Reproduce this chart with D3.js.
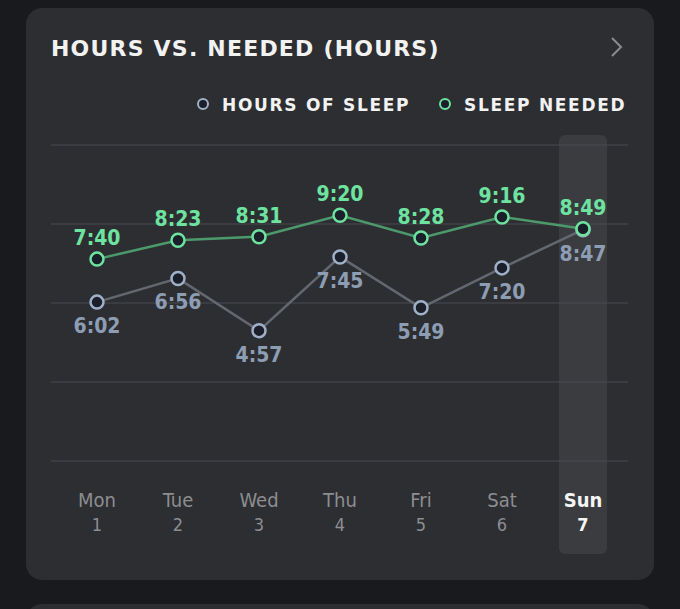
<!DOCTYPE html>
<html>
<head>
<meta charset="utf-8">
<script src="https://cdn.jsdelivr.net/npm/d3@7"></script>
<style>
  html, body { margin: 0; padding: 0; background: #191a1e; }
  svg { display: block; }
</style>
</head>
<body>
<script>
var days = ['Mon', 'Tue', 'Wed', 'Thu', 'Fri', 'Sat', 'Sun'],
    dates = ['1', '2', '3', '4', '5', '6', '7'],
    sleepHours = ['6:02', '6:56', '4:57', '7:45', '5:49', '7:20', '8:47'],
    sleepNeeded = ['7:40', '8:23', '8:31', '9:20', '8:28', '9:16', '8:49'],
    yTicks = [0, 3, 6, 9, 12];

var w = 680, h = 609;

function toHours(s) {
  var p = s.split(':');
  return +p[0] + p[1] / 60;
}

var svg = d3.select('body')
  .append('svg')
  .attr('width', w)
  .attr('height', h);

// cards
svg.append('rect')
  .attr('x', 26).attr('y', 8)
  .attr('width', 628).attr('height', 572)
  .attr('rx', 16)
  .attr('fill', '#2d2e32');
svg.append('rect')
  .attr('x', 26).attr('y', 604)
  .attr('width', 628).attr('height', 40)
  .attr('rx', 16)
  .attr('fill', '#2d2e32');

// title
svg.append('text')
  .attr('x', 51).attr('y', 56)
  .attr('fill', '#f2f2f2')
  .style('font', 'bold 22px "DejaVu Sans"')
  .style('letter-spacing', '1.2px')
  .text('HOURS VS. NEEDED (HOURS)');

svg.append('path')
  .attr('d', 'M612,38 L621,47 L612,56')
  .attr('fill', 'none')
  .attr('stroke', '#8a8b8f')
  .attr('stroke-width', 2);

// legend
var legend = [
  { label: 'HOURS OF SLEEP', color: '#9fb0c8', x: 203 },
  { label: 'SLEEP NEEDED', color: '#6ee3a0', x: 445 }
];
var lg = svg.selectAll('g.legend')
  .data(legend)
  .enter()
  .append('g')
  .classed('legend', true)
  .attr('transform', function(d) { return 'translate(' + d.x + ',104)'; });
lg.append('circle')
  .attr('r', 5)
  .attr('fill', '#1a1f2a')
  .attr('stroke', function(d) { return d.color; })
  .attr('stroke-width', 2);
lg.append('text')
  .attr('x', 19).attr('y', 6.5)
  .attr('fill', '#f2f2f2')
  .style('font', 'bold 17px "DejaVu Sans"')
  .style('letter-spacing', '1.7px')
  .text(function(d) { return d.label; });

// scales
var x = d3.scalePoint()
  .domain(days)
  .range([97, 583]);
var y = d3.scaleLinear()
  .domain([0, 12])
  .range([461, 145]);

// highlight band for the last day
svg.append('rect')
  .attr('x', x('Sun') - 24).attr('y', 135)
  .attr('width', 48).attr('height', 419)
  .attr('rx', 6)
  .attr('fill', '#3d3e43')
  .attr('opacity', 0.85);

// grid
svg.selectAll('line.grid')
  .data(yTicks)
  .enter()
  .append('line')
  .classed('grid', true)
  .attr('x1', 51).attr('x2', 628)
  .attr('y1', function(d) { return y(d); })
  .attr('y2', function(d) { return y(d); })
  .attr('stroke', '#4a4b50')
  .attr('stroke-width', 1);

// x axis labels
var xl = svg.selectAll('g.day')
  .data(days)
  .enter()
  .append('g')
  .classed('day', true)
  .attr('transform', function(d) { return 'translate(' + x(d) + ',0)'; });
xl.append('text')
  .attr('y', 507)
  .attr('text-anchor', 'middle')
  .attr('fill', function(d, i) { return i === 6 ? '#f5f5f5' : '#8c8d91'; })
  .style('font', function(d, i) { return (i === 6 ? 'bold ' : '') + '20px "DejaVu Sans Condensed"'; })
  .text(function(d) { return d; });
xl.append('text')
  .attr('y', 531)
  .attr('text-anchor', 'middle')
  .attr('fill', function(d, i) { return i === 6 ? '#f5f5f5' : '#8c8d91'; })
  .style('font', function(d, i) { return (i === 6 ? 'bold ' : '') + '18px "DejaVu Sans Condensed"'; })
  .text(function(d, i) { return dates[i]; });

// series
var series = [
  { values: sleepHours, line: '#636870', dot: '#9fb0c8', label: '#8d9db3', dy: 31 },
  { values: sleepNeeded, line: '#4c9a6c', dot: '#6ee3a0', label: '#6ee3a0', dy: -14 }
];

var line = d3.line()
  .x(function(d, i) { return x(days[i]); })
  .y(function(d) { return y(toHours(d)); });

series.forEach(function(s) {
  svg.append('path')
    .datum(s.values)
    .attr('d', line)
    .attr('fill', 'none')
    .attr('stroke', s.line)
    .attr('stroke-width', 2.5);
});

series.forEach(function(s) {
  var g = svg.append('g');
  g.selectAll('circle')
    .data(s.values)
    .enter()
    .append('circle')
    .attr('cx', function(d, i) { return x(days[i]); })
    .attr('cy', function(d) { return y(toHours(d)); })
    .attr('r', 6.5)
    .attr('fill', '#1a1f2a')
    .attr('stroke', s.dot)
    .attr('stroke-width', 2.5);
  g.selectAll('text')
    .data(s.values)
    .enter()
    .append('text')
    .attr('x', function(d, i) { return x(days[i]); })
    .attr('y', function(d) { return y(toHours(d)) + s.dy; })
    .attr('text-anchor', 'middle')
    .attr('fill', s.label)
    .style('font', 'bold 21px "DejaVu Sans Condensed"')
    .text(function(d) { return d; });
});
</script>
</body>
</html>
